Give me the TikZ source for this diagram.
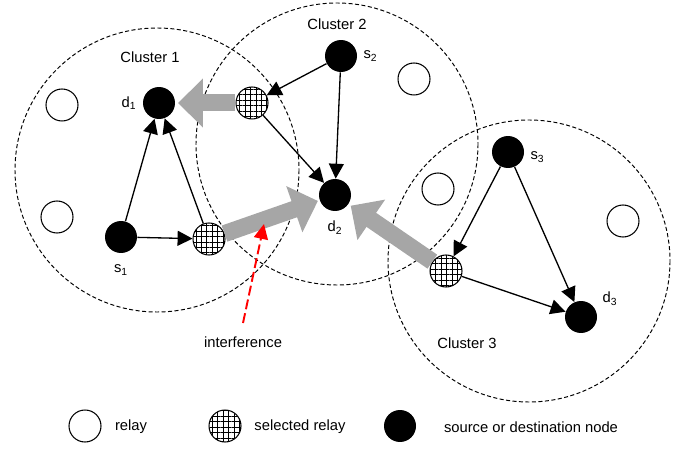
\documentclass[tikz,border=0pt]{standalone}
\usepackage{fontspec}
\setmainfont{Liberation Sans}
\usetikzlibrary{arrows.meta,patterns.meta}

\begin{document}
\begin{tikzpicture}[x=0.02cm, y=-0.02cm,
    every node/.style={font=\fontsize{8.4}{10}\selectfont},
    relay/.style={circle, draw, line width=0.6pt, fill=white, minimum size=0.64cm, inner sep=0pt},
    selrelay/.style={circle, draw, line width=0.6pt, minimum size=0.64cm, inner sep=0pt,
        preaction={fill=white}, pattern={Hatch[angle=0, distance=3.1pt, line width=0.55pt]}},
    terminal/.style={circle, fill=black, minimum size=0.64cm, inner sep=0pt},
    cluster/.style={line width=0.55pt, dash pattern=on 2.3pt off 1.4pt},
    link/.style={-{Triangle[length=8.5pt, width=8.5pt]}, line width=0.75pt},
    flow/.style={-{Triangle[length=0.5cm, width=0.95cm]}, line width=0.34cm, draw=black!35},
]
    \useasboundingbox (0, 0) rectangle (686, 449);

    % Clusters
    \draw[cluster] (157, 170) circle[radius=142];
    \draw[cluster] (337, 144) circle[radius=141];
    \draw[cluster] (529, 261) circle[radius=141];
    \node (c1) at (150, 57) {Cluster 1};
    \node (c2) at (337, 24) {Cluster 2};
    \node (c3) at (467, 343) {Cluster 3};

    % Idle relays
    \node[relay] (r1a) at (62, 105) {};
    \node[relay] (r1b) at (57, 217) {};
    \node[relay] (r2a) at (414, 79) {};
    \node[relay] (r2b) at (438, 189) {};
    \node[relay] (r3) at (623, 221) {};

    % Sources and destinations
    \node[terminal, label=left:d\textsubscript{1}] (d1) at (159, 103) {};
    \node[terminal, label={[label distance=3pt]below:s\textsubscript{1}}] (s1) at (121, 237) {};
    \node[terminal, label=right:s\textsubscript{2}] (s2) at (341, 56) {};
    \node[terminal, label={[label distance=2pt]below:d\textsubscript{2}}] (d2) at (335, 195) {};
    \node[terminal, label={[yshift=-3pt]right:s\textsubscript{3}}] (s3) at (508, 152) {};
    \node[terminal, label=20:d\textsubscript{3}] (d3) at (581, 317) {};

    % Selected relays
    \node[selrelay] (h1) at (209, 239) {};
    \node[selrelay] (h2) at (252, 103) {};
    \node[selrelay] (h3) at (446, 271) {};

    % Links inside the clusters
    \draw[link] (s1) -- (h1);
    \draw[link] (s1) -- (d1);
    \draw[link] (h1) -- (d1);
    \draw[link] (s2) -- (h2);
    \draw[link] (s2) -- (d2);
    \draw[link] (h2) -- (d2);
    \draw[link] (s3) -- (h3);
    \draw[link] (s3) -- (d3);
    \draw[link] (h3) -- (d3);

    % Interfering transmissions
    \draw[flow, shorten >=1.5pt] (h2) -- (d1);
    \draw[flow, shorten >=1pt] (h1) -- (d2);
    \draw[flow, shorten >=1.5pt] (h3) -- (d2);

    % Interference
    \node (intf) at (243, 342) {interference};
    \coordinate (intfA) at (243, 323);
    \coordinate (intfB) at (264, 224);
    \draw[red, line width=1.1pt, dash pattern=on 5.7pt off 2.3pt,
        -{Triangle[length=8.5pt, width=8pt]}] (intfA) -- (intfB);

    % Legend
    \node[relay] (lgr) at (85, 426) {};
    \node (lgrt) at (131, 427) {relay};
    \node[selrelay] (lgs) at (225, 426) {};
    \node (lgst) at (300, 427) {selected relay};
    \node[terminal] (lgt) at (400, 426) {};
    \node (lgtt) at (531, 427) {source or destination node};
\end{tikzpicture}
\end{document}
